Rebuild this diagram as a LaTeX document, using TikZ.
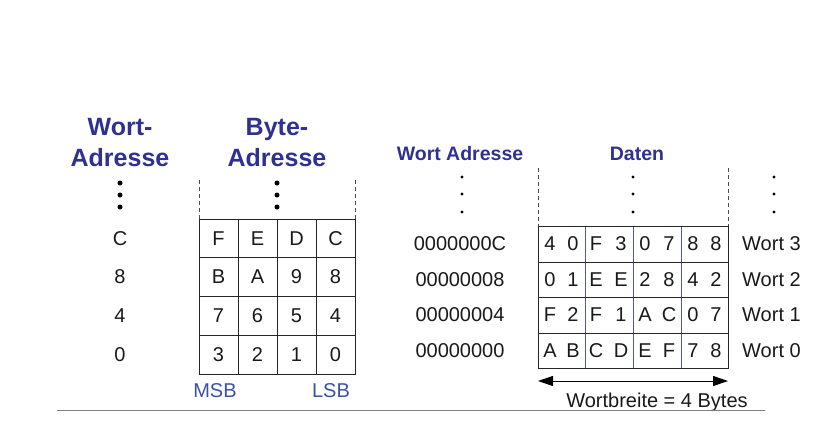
\documentclass[tikz,border=0pt]{standalone}
\usepackage{fontspec}
\setmainfont{Liberation Sans}
\usetikzlibrary{arrows.meta}
\definecolor{titleblue}{RGB}{46,49,146}
\definecolor{labelblue}{RGB}{57,83,164}
\definecolor{gridblue}{RGB}{70,95,170}
\definecolor{linegray}{RGB}{128,128,128}
\tikzset{
  txt/.style={inner sep=0pt, text=black!90, font=\fontsize{20}{24}\selectfont},
  bigtitle/.style={inner sep=0pt, align=center, text=titleblue, font=\fontsize{25}{31}\bfseries\selectfont},
  smalltitle/.style={inner sep=0pt, text=titleblue, font=\fontsize{19.5}{24}\bfseries\selectfont},
  sblabel/.style={inner sep=0pt, text=labelblue, font=\fontsize{20}{24}\selectfont},
  gridline/.style={line width=0.9pt, draw=black!85},
  innerblue/.style={line width=0.7pt, draw=gridblue},
  dashline/.style={line width=0.6pt, draw=black!70, dash pattern=on 4pt off 3pt},
  bigdot/.style={circle, fill=black, inner sep=0pt, minimum size=5pt},
  smalldot/.style={circle, fill=black, inner sep=0pt, minimum size=3.4pt},
}
\begin{document}
\begin{tikzpicture}[x=1pt,y=-1pt]
\useasboundingbox (0,0) rectangle (827,426);
% ---------- left part ----------
\node[bigtitle] (wtitle) at (120,143) {Wort-\\Adresse};
\node[bigtitle] (btitle) at (277,143) {Byte-\\Adresse};
\foreach \yy [count=\i] in {183,195,207}{
  \node[bigdot] (wd\i) at (120,\yy) {};
  \node[bigdot] (bd\i) at (277,\yy) {};
}
\coordinate (bl1) at (199,180); \coordinate (bl2) at (199,219);
\coordinate (br1) at (355,180); \coordinate (br2) at (355,219);
\draw[dashline] (bl1) -- (bl2);
\draw[dashline] (br1) -- (br2);
% byte grid
\coordinate (bgA) at (199,219); \coordinate (bgB) at (355,374);
\draw[gridline] (bgA) rectangle (bgB);
\foreach \xx in {238,277,316}{
  \draw[gridline] (\xx,219) -- (\xx,374);
}
\foreach \yy in {257.75,296.5,335.25}{
  \draw[gridline] (199,\yy) -- (355,\yy);
}
\foreach \lab/\yy [count=\r] in {C/238.4,8/277.1,4/315.9,0/354.6}{
  \node[txt] (wa\r) at (120,\yy) {\lab};
}
\foreach \a/\b/\c/\d/\yy [count=\r] in {F/E/D/C/238.4, B/A/9/8/277.1, 7/6/5/4/315.9, 3/2/1/0/354.6}{
  \node[txt] (b\r a) at (218.5,\yy) {\a};
  \node[txt] (b\r b) at (257.5,\yy) {\b};
  \node[txt] (b\r c) at (296.5,\yy) {\c};
  \node[txt] (b\r d) at (335.5,\yy) {\d};
}
\node[sblabel] (msb) at (215,391) {MSB};
\node[sblabel] (lsb) at (331,391) {LSB};
% ---------- right part ----------
\node[smalltitle] (watitle) at (460,154) {Wort Adresse};
\node[smalltitle] (dtitle) at (637,154) {Daten};
\foreach \yy [count=\i] in {177,194,212}{
  \node[smalldot] (ad\i) at (462,\yy) {};
  \node[smalldot] (dd\i) at (633,\yy) {};
  \node[smalldot] (rd\i) at (774,\yy) {};
}
\coordinate (dl1) at (538,168); \coordinate (dl2) at (538,226);
\coordinate (dr1) at (728,168); \coordinate (dr2) at (728,226);
\draw[dashline] (dl1) -- (dl2);
\draw[dashline] (dr1) -- (dr2);
% data grid
\foreach \xx in {585,633,681}{
  \draw[innerblue] (\xx,226) -- (\xx,368);
}
\foreach \yy in {262,297.5,333}{
  \draw[gridline] (538,\yy) -- (728,\yy);
}
\coordinate (dgA) at (538,226); \coordinate (dgB) at (728,368);
\draw[gridline] (dgA) rectangle (dgB);
\foreach \adr/\yy [count=\r] in {0000000C/244,00000008/279.5,00000004/315,00000000/350.5}{
  \node[txt] (adr\r) at (460,\yy) {\adr};
}
\foreach \w/\yy in {3/244,2/279.5,1/315,0/350.5}{
  \node[txt, anchor=west] (wort\w) at (742,\yy) {Wort \w};
}
\foreach \a/\b/\c/\d/\e/\f/\g/\h/\yy [count=\r] in
  {4/0/F/3/0/7/8/8/244, 0/1/E/E/2/8/4/2/279.5, F/2/F/1/A/C/0/7/315, A/B/C/D/E/F/7/8/350.5}{
  \node[txt] (d\r a) at (550,\yy) {\a};
  \node[txt] (d\r b) at (573,\yy) {\b};
  \node[txt] (d\r c) at (596,\yy) {\c};
  \node[txt] (d\r d) at (621,\yy) {\d};
  \node[txt] (d\r e) at (645,\yy) {\e};
  \node[txt] (d\r f) at (669,\yy) {\f};
  \node[txt] (d\r g) at (693,\yy) {\g};
  \node[txt] (d\r h) at (716,\yy) {\h};
}
\coordinate (arL) at (538,381); \coordinate (arR) at (728,381);
\draw[line width=0.9pt, {Triangle[length=15pt,width=10pt]}-{Triangle[length=15pt,width=10pt]}] (arL) -- (arR);
\node[txt] (wbreite) at (657,402) {Wortbreite = 4 Bytes};
\coordinate (hl1) at (57,410); \coordinate (hl2) at (765,410);
\draw[line width=1pt, draw=linegray] (hl1) -- (hl2);
\end{tikzpicture}
\end{document}
